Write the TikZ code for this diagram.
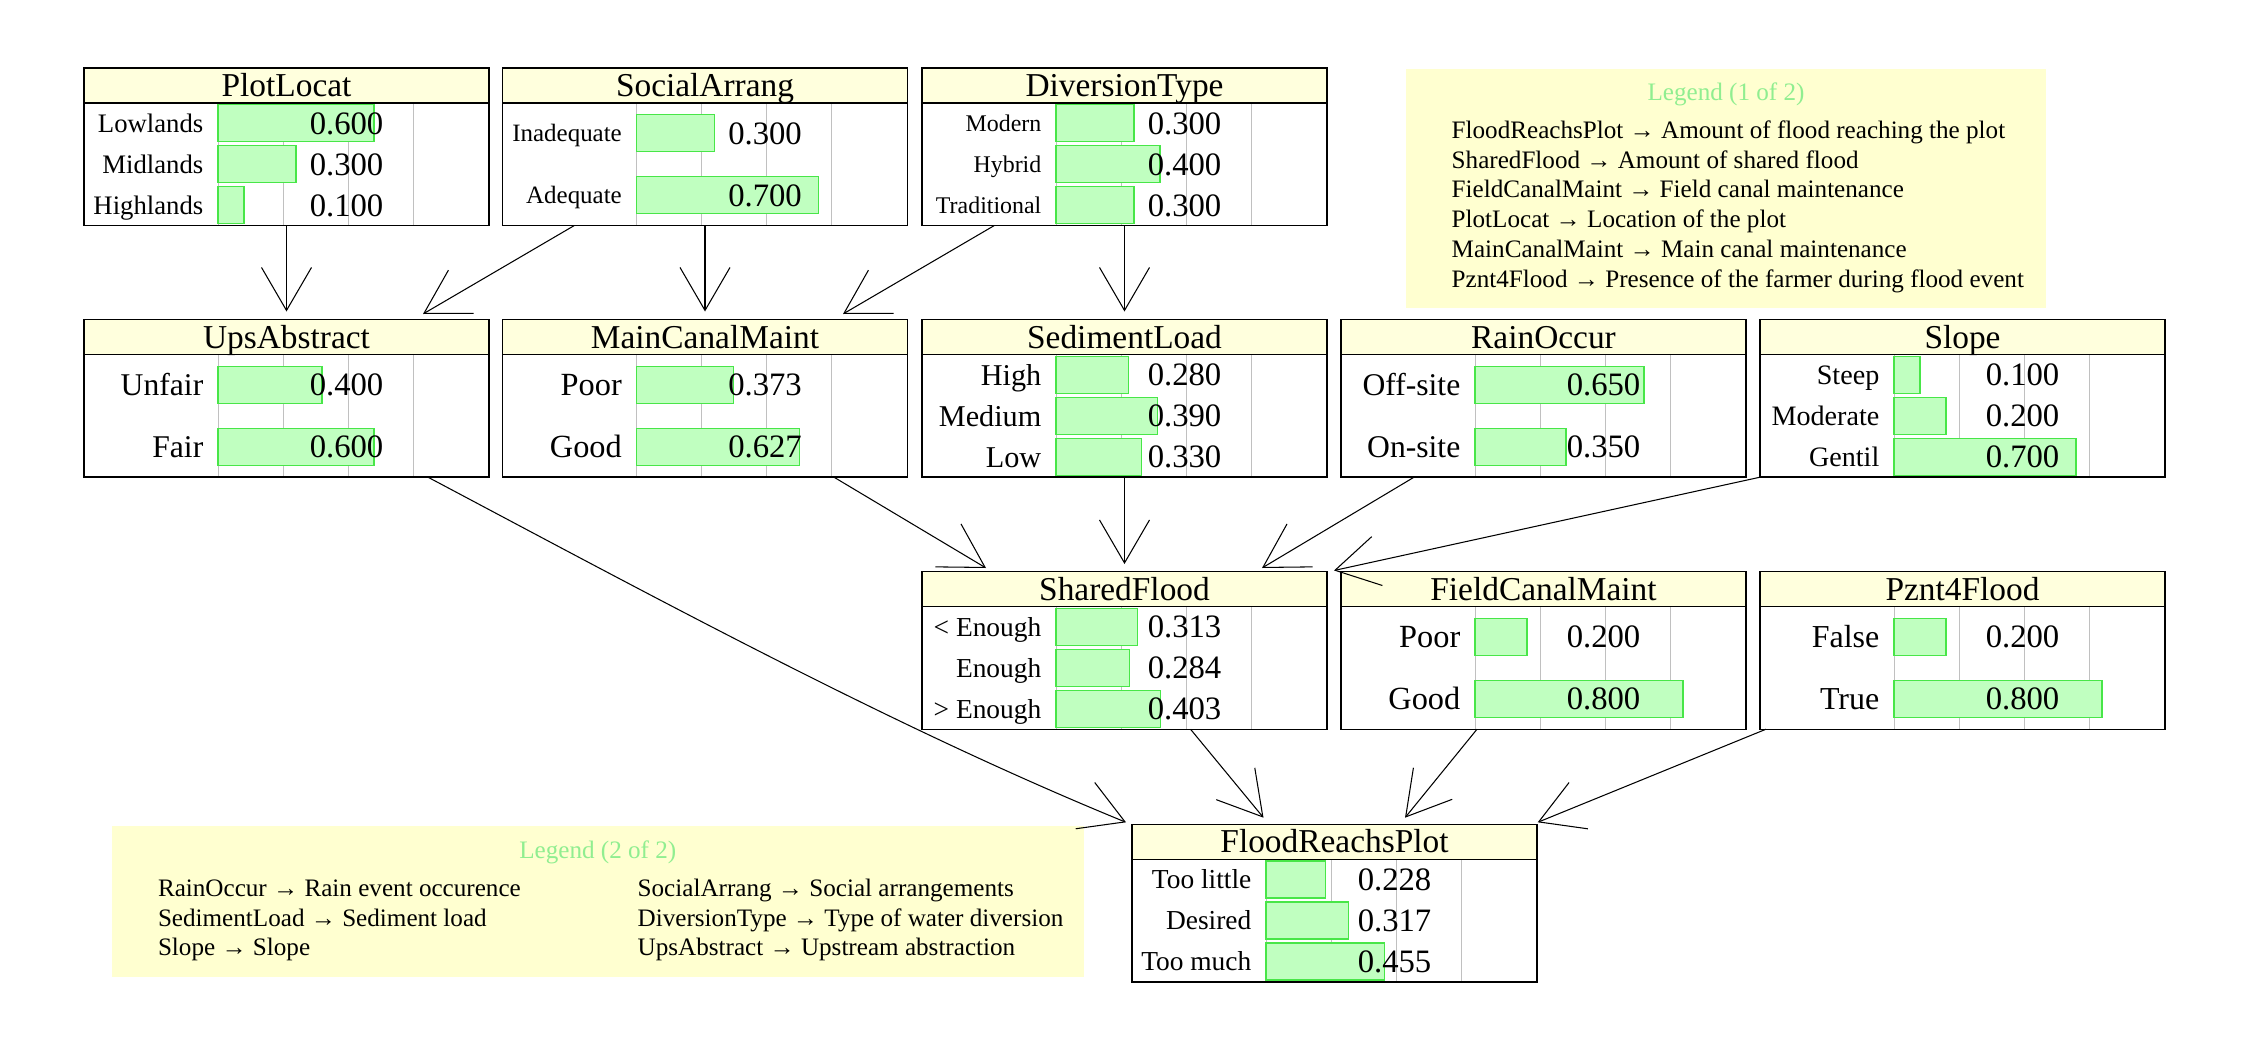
\documentclass[tikz,border=0pt]{standalone}
\usepackage{fontspec}
\setmainfont{Liberation Serif}
\usetikzlibrary{arrows.meta,calc}
\definecolor{titlefill}{RGB}{255,255,221}
\definecolor{legendfill}{RGB}{255,255,208}
\definecolor{barfill}{RGB}{192,255,192}
\definecolor{barline}{RGB}{72,230,72}
\definecolor{gridgray}{RGB}{192,192,192}
\definecolor{legendtitle}{RGB}{144,238,144}
\tikzset{
  boxbase/.style={rectangle, fill=white, inner sep=0, outer sep=0, minimum width=40.5mm, minimum height=15.77mm},
  boxline/.style={draw=black, line width=0.4pt},
  gridline/.style={draw=gridgray, line width=0.28pt},
  barbox/.style={fill=barfill, draw=barline, line width=0.35pt},
  titletext/.style={anchor=base, inner sep=0, font=\fontsize{9.5}{11}\selectfont},
  labeltext/.style={anchor=base east, inner sep=0},
  valtext/.style={anchor=base east, inner sep=0, font=\fontsize{9.3}{11}\selectfont},
  legendbox/.style={rectangle, fill=legendfill, inner sep=0, outer sep=0},
  legtext/.style={anchor=base west, inner sep=0, font=\fontsize{7.15}{8.5}\selectfont},
  legtitle/.style={anchor=base, inner sep=0, text=legendtitle, font=\fontsize{7.15}{8.5}\selectfont},
  link/.style={draw=black, line width=0.3pt, -{Straight Barb[length=4.3mm,width=5mm]}},
}
% #1 name, #2 left, #3 top, #4 title
\newcommand{\bnbox}[4]{%
  \node[boxbase, anchor=north west] (#1) at (#2,#3) {};
  \fill[titlefill] (#1.north west) rectangle ($(#1.north east)+(0,35)$);
  \foreach \k in {0,1,2,3} {\draw[gridline] ({#2+134+65*\k},{#3+35}) -- ({#2+134+65*\k},{#3+157.7});}
  \node[titletext] (#1-title) at ({#2+202.5},{#3+17.5+11.1}) {#4};
}
% #1 left, #2 top, #3 row offset, #4 label, #5 value, #6 label size
\newcommand{\bnrow}[6]{%
  \draw[barbox] ({#1+134},{#2+#3-18.5}) rectangle ({#1+134+#5*260},{#2+#3+18.5});
  \node[labeltext, font=\fontsize{#6}{#6}\selectfont] at ({#1+120},{#2+#3+1.2*#6}) {#4};
  \node[valtext] at ({#1+300},{#2+#3+11.2}) {#5};
}
\newcommand{\bnframe}[1]{%
  \draw[boxline] ($(#1.north west)+(0,35)$) -- ($(#1.north east)+(0,35)$);
  \draw[boxline] (#1.north west) rectangle (#1.south east);
}
\begin{document}
\begin{tikzpicture}[x=0.1mm,y=-0.1mm]
\useasboundingbox (0,0) rectangle (2250,1050);
\fill[white] (0,0) rectangle (2250,1050);

% Legends
\node[legendbox, anchor=north west, minimum width=64mm, minimum height=23.9mm] (legend1) at (1406,69) {};
\node[legtitle] (leg1title) at (1726,100.7) {Legend (1 of 2)};
\node[legtext] (l1a) at (1451,138.3) {FloodReachsPlot → Amount of flood reaching the plot};
\node[legtext] (l1b) at (1451,168.1) {SharedFlood → Amount of shared flood};
\node[legtext] (l1c) at (1451,197.9) {FieldCanalMaint → Field canal maintenance};
\node[legtext] (l1d) at (1451,227.7) {PlotLocat → Location of the plot};
\node[legtext] (l1e) at (1451,257.5) {MainCanalMaint → Main canal maintenance};
\node[legtext] (l1f) at (1451,287.3) {Pznt4Flood → Presence of the farmer during flood event};

\node[legendbox, anchor=north west, minimum width=97.25mm, minimum height=15.07mm] (legend2) at (111.5,826) {};
\node[legtitle] (leg2title) at (597.8,858.3) {Legend (2 of 2)};
\node[legtext] (l2a) at (157.3,896.7) {RainOccur → Rain event occurence};
\node[legtext] (l2b) at (157.3,926.3) {SedimentLoad → Sediment load};
\node[legtext] (l2c) at (157.3,955.9) {Slope → Slope};
\node[legtext] (l2d) at (637,896.7) {SocialArrang → Social arrangements};
\node[legtext] (l2e) at (637,926.3) {DiversionType → Type of water diversion};
\node[legtext] (l2f) at (637,955.9) {UpsAbstract → Upstream abstraction};

% Row 1
\bnbox{PlotLocat}{84}{68}{PlotLocat}
\bnrow{84}{68}{55.25}{Lowlands}{0.600}{7.6}
\bnrow{84}{68}{96.25}{Midlands}{0.300}{7.6}
\bnrow{84}{68}{137.25}{Highlands}{0.100}{7.6}
\bnframe{PlotLocat}

\bnbox{SocialArrang}{502.5}{68}{SocialArrang}
\bnrow{502.5}{68}{65.25}{Inadequate}{0.300}{7.1}
\bnrow{502.5}{68}{127.25}{Adequate}{0.700}{7.1}
\bnframe{SocialArrang}

\bnbox{DiversionType}{922}{68}{DiversionType}
\bnrow{922}{68}{55.25}{Modern}{0.300}{6.8}
\bnrow{922}{68}{96.25}{Hybrid}{0.400}{6.8}
\bnrow{922}{68}{137.25}{Traditional}{0.300}{6.8}
\bnframe{DiversionType}

% Row 2
\bnbox{UpsAbstract}{84}{319.5}{UpsAbstract}
\bnrow{84}{319.5}{65.25}{Unfair}{0.400}{9.0}
\bnrow{84}{319.5}{127.25}{Fair}{0.600}{9.0}
\bnframe{UpsAbstract}

\bnbox{MainCanalMaint}{502.5}{319.5}{MainCanalMaint}
\bnrow{502.5}{319.5}{65.25}{Poor}{0.373}{9.2}
\bnrow{502.5}{319.5}{127.25}{Good}{0.627}{9.2}
\bnframe{MainCanalMaint}

\bnbox{SedimentLoad}{922}{319.5}{SedimentLoad}
\bnrow{922}{319.5}{55.25}{High}{0.280}{8.6}
\bnrow{922}{319.5}{96.25}{Medium}{0.390}{8.6}
\bnrow{922}{319.5}{137.25}{Low}{0.330}{8.6}
\bnframe{SedimentLoad}

\bnbox{RainOccur}{1341}{319.5}{RainOccur}
\bnrow{1341}{319.5}{65.25}{Off-site}{0.650}{9.0}
\bnrow{1341}{319.5}{127.25}{On-site}{0.350}{9.0}
\bnframe{RainOccur}

\bnbox{Slope}{1760}{319.5}{Slope}
\bnrow{1760}{319.5}{55.25}{Steep}{0.100}{8.0}
\bnrow{1760}{319.5}{96.25}{Moderate}{0.200}{8.0}
\bnrow{1760}{319.5}{137.25}{Gentil}{0.700}{8.0}
\bnframe{Slope}

% Row 3
\bnbox{SharedFlood}{922}{571.5}{SharedFlood}
\bnrow{922}{571.5}{55.25}{< Enough}{0.313}{7.8}
\bnrow{922}{571.5}{96.25}{Enough}{0.284}{7.8}
\bnrow{922}{571.5}{137.25}{> Enough}{0.403}{7.8}
\bnframe{SharedFlood}

\bnbox{FieldCanalMaint}{1341}{571.5}{FieldCanalMaint}
\bnrow{1341}{571.5}{65.25}{Poor}{0.200}{9.2}
\bnrow{1341}{571.5}{127.25}{Good}{0.800}{9.2}
\bnframe{FieldCanalMaint}

\bnbox{Pznt4Flood}{1760}{571.5}{Pznt4Flood}
\bnrow{1760}{571.5}{65.25}{False}{0.200}{9.1}
\bnrow{1760}{571.5}{127.25}{True}{0.800}{9.1}
\bnframe{Pznt4Flood}

% Row 4
\bnbox{FloodReachsPlot}{1132}{824.3}{FloodReachsPlot}
\bnrow{1132}{824.3}{55.25}{Too little}{0.228}{7.8}
\bnrow{1132}{824.3}{96.25}{Desired}{0.317}{7.8}
\bnrow{1132}{824.3}{137.25}{Too much}{0.455}{7.8}
\bnframe{FloodReachsPlot}

% Links
\draw[link] (PlotLocat.south) -- ($(UpsAbstract.north)+(0,-8)$);
\draw[link] ($(SocialArrang.south west)+(71.5,0)$) -- ($(UpsAbstract.north west)+(339,-5.5)$);
\draw[link] (SocialArrang.south) -- ($(MainCanalMaint.north)+(0,-8)$);
\draw[link] ($(DiversionType.south west)+(72,0)$) -- ($(MainCanalMaint.north west)+(340.5,-5.5)$);
\draw[link] (DiversionType.south) -- ($(SedimentLoad.north)+(0,-8)$);
\draw[link] ($(UpsAbstract.south west)+(344,0)$) .. controls +(232,123) and +(-232,-95) .. ($(FloodReachsPlot.north west)+(-6,-2)$);
\draw[link] ($(MainCanalMaint.south west)+(331.5,0)$) -- ($(SharedFlood.north west)+(64,-3.5)$);
\draw[link] (SedimentLoad.south) -- ($(SharedFlood.north)+(0,-7.5)$);
\draw[link] ($(RainOccur.south west)+(73,0)$) -- ($(SharedFlood.north west)+(340,-3.5)$);
\draw[link] (Slope.south west) -- ($(SharedFlood.north east)+(7,-1)$);
\draw[link] ($(SharedFlood.south west)+(268.5,0)$) -- ($(FloodReachsPlot.north west)+(131.5,-6.6)$);
\draw[link] ($(FieldCanalMaint.south west)+(136,0)$) -- ($(FloodReachsPlot.north west)+(273,-6.6)$);
\draw[link] ($(Pznt4Flood.south west)+(6,0)$) -- ($(FloodReachsPlot.north east)+(0.7,-2)$);
\end{tikzpicture}
\end{document}
